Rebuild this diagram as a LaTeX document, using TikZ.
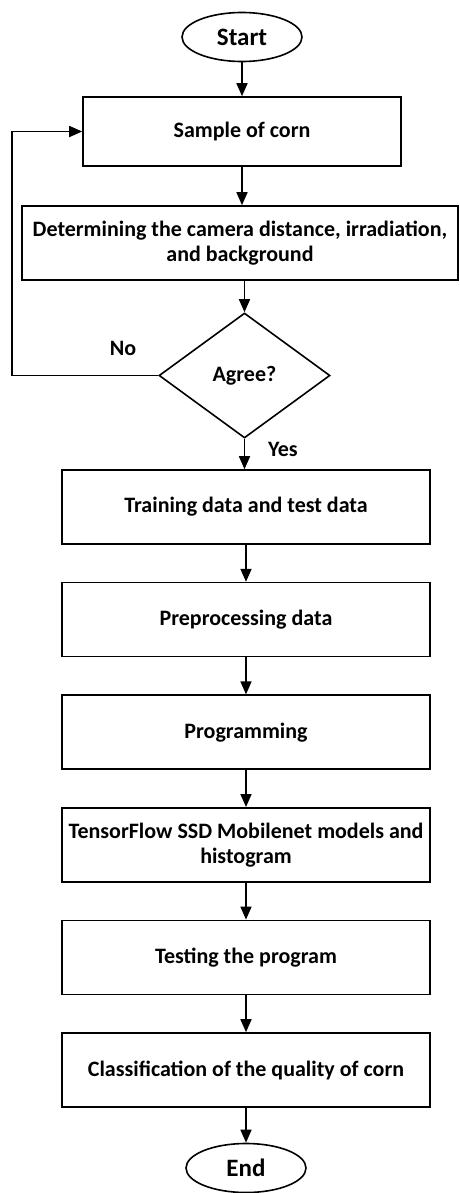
\documentclass[tikz,border=0pt]{standalone}
\usepackage{fontspec}
\setmainfont{Carlito}
\usetikzlibrary{shapes.geometric,arrows.meta}
\begin{document}
\begin{tikzpicture}[x=1pt,y=-1pt,
  box/.style={draw, line width=1.6pt, minimum width=368pt, minimum height=74pt, align=center, inner sep=0pt, font=\fontsize{22}{25}\selectfont\bfseries},
  term/.style={draw, ellipse, line width=1.6pt, minimum width=120pt, minimum height=49pt, inner sep=0pt, font=\fontsize{25}{28}\selectfont\bfseries},
  decision/.style={draw, diamond, line width=1.6pt, minimum width=171pt, minimum height=125pt, inner sep=0pt, font=\fontsize{22}{25}\selectfont\bfseries},
  arr/.style={line width=1.6pt, -{Triangle[length=13pt,width=11pt]}},
  line/.style={line width=1.6pt},
  lbl/.style={font=\fontsize{22}{25}\selectfont\bfseries}]
\useasboundingbox (0,0) rectangle (460,1193);
\node[term] (start) at (242,37) {Start};
\node[box, minimum width=318pt, minimum height=69pt] (sample) at (242,131.5) {Sample of corn};
\node[box, minimum width=436pt] (det) at (240,243) {Determining the camera distance, irradiation,\\and background};
\node[decision] (agree) at (244.5,375.5) {Agree?};
\node[box] (train) at (246,507) {Training data and test data};
\node[box] (pre) at (246,619.6) {Preprocessing data};
\node[box] (prog) at (246,732.2) {Programming};
\node[box] (tf) at (246,844.8) {TensorFlow SSD Mobilenet models and\\histogram};
\node[box] (test) at (246,957.4) {Testing the program};
\node[box] (cls) at (246,1070) {Classification of the quality of corn};
\node[term] (end) at (246,1168) {End};
\coordinate (lp) at (12,377);
\node[lbl] (no) at (123,348) {No};
\node[lbl] (yes) at (283,449) {Yes};
\draw[arr] (start.south) -- (sample.north);
\draw[arr] (sample.south) -- (sample.south |- det.north);
\draw[arr] (agree.north |- det.south) -- (agree.north);
\draw[arr] (agree.south) -- (agree.south |- train.north);
\draw[arr] (train) -- (pre);
\draw[arr] (pre) -- (prog);
\draw[arr] (prog) -- (tf);
\draw[arr] (tf) -- (test);
\draw[arr] (test) -- (cls);
\draw[arr] (cls.south) -- (end.north);
\draw[arr] (agree.west) -- (agree.west -| lp) |- (sample.west);
\end{tikzpicture}
\end{document}
